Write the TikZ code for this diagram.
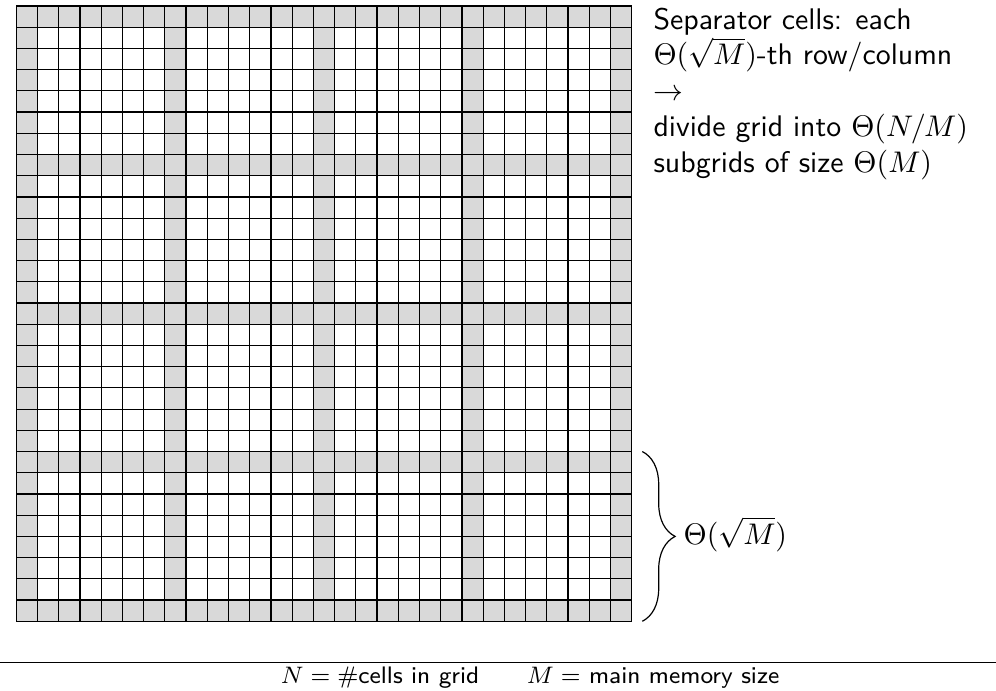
\documentclass[tikz,border=0pt]{standalone}
\usetikzlibrary{decorations.pathreplacing}
\tikzset{
  sepcell/.style={fill=gray!30},
  cella/.style={draw=black, line width=0.4pt},
  testo/.style={inner sep=0pt, font=\sffamily, align=left},
  graffa/.style={decorate, decoration={brace, amplitude=11pt}},
}
\begin{document}
\begin{tikzpicture}[x=0.25cm,y=0.25cm]
  \useasboundingbox (-0.77,-3.28) rectangle (46.17,29.28);
  %righe e colonne separatrici
  \foreach \k in {0,7,14,21,28}{
    \fill[sepcell](0,\k) rectangle ++(29,1);
    \fill[sepcell](\k,0) rectangle ++(1,29);
  }
  %griglia
  \draw[cella, step=0.25cm](0,0) grid (29,29);
  %testo
  \node[testo, anchor=north west] (descr) at (30,28.94) {Separator cells: each\\ $\Theta(\sqrt{M})$-th row/column\\ $\rightarrow$\\ divide grid into $\Theta(N/M)$\\ subgrids of size $\Theta(M)$};
  %graffa
  \coordinate (gsu) at (29.5,8);
  \coordinate (ggiu) at (29.5,0);
  \draw[graffa](gsu)--(ggiu);
  \node[testo, anchor=west] (sqrtm) at (31.42,4.1) {$\Theta(\sqrt{M})$};
  %linea e didascalia
  \coordinate (lsx) at (-0.77,-1.95);
  \coordinate (ldx) at (46.17,-1.95);
  \draw(lsx)--(ldx);
  \node[testo, anchor=base, font=\sffamily\footnotesize] (didasc) at (24.21,-2.91) {$N = \#$cells in grid$\qquad M =$ main memory size};
\end{tikzpicture}
\end{document}
